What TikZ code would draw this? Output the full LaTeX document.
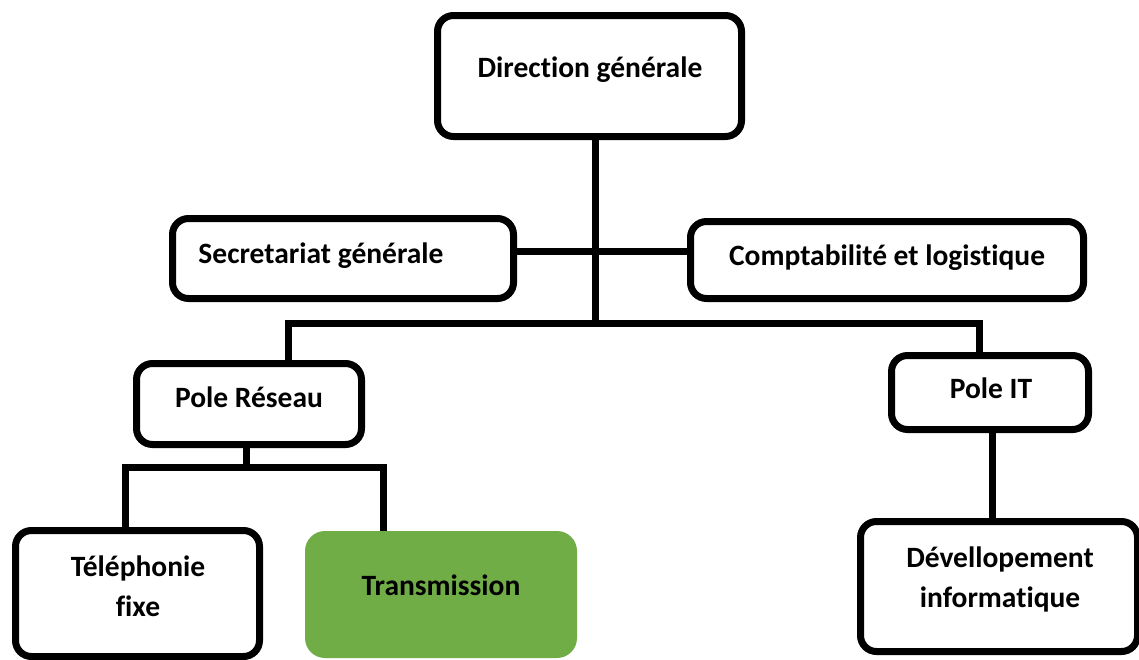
\documentclass[tikz,border=0pt]{standalone}
\usepackage{fontspec}
\setmainfont{Carlito}[Ligatures={NoCommon}]
\definecolor{tgreen}{HTML}{70AD47}
\begin{document}
\begin{tikzpicture}[x=1pt,y=-1pt,
  box/.style={draw=black, line width=7pt, rounded corners=16pt, fill=white, inner sep=0pt},
  lbl/.style={font=\fontsize{29.5}{40}\selectfont\bfseries, align=center, inner sep=0pt, anchor=base},
  conn/.style={line width=7pt, draw=black}]
\clip (0,0) rectangle (1139,659);
\fill[white] (0,0) rectangle (1139,659);
% boxes
\node[box, minimum width=304pt, minimum height=121pt] (dg) at (589.5,76) {};
\node[box, minimum width=341pt, minimum height=80pt] (sec) at (343,258.5) {};
\node[box, minimum width=393pt, minimum height=77pt] (comp) at (887,260) {};
\node[box, minimum width=225pt, minimum height=81pt] (pr) at (249,404) {};
\node[box, minimum width=197pt, minimum height=74pt] (it) at (990,392.5) {};
\node[box, minimum width=244pt, minimum height=126pt] (tel) at (137.5,593.5) {};
\node[fill=tgreen, rounded corners=20pt, inner sep=0pt, minimum width=272pt, minimum height=127pt] (trans) at (441,594.5) {};
\node[box, minimum width=277pt, minimum height=130pt] (dev) at (999,586.5) {};
% labels
\node[lbl] (dgt) at (590,77) {Direction générale};
\node[lbl] (sect) at (321,263) {Secretariat générale};
\node[lbl] (compt) at (887,265) {Comptabilité et logistique};
\node[lbl] (prt) at (249,407) {Pole Réseau};
\node[lbl] (itt) at (991,398) {Pole IT};
\node[lbl] (telt) at (138,616) {Téléphonie\\fixe};
\node[lbl] (transt) at (441,595) {Transmission};
\node[lbl] (devt) at (1000,607) {Dévellopement\\informatique};
% junctions
\coordinate (jtop) at (595,323);
\coordinate (jl) at (288,323);
\coordinate (jr) at (979,323);
\coordinate (sc) at (600,251);
\coordinate (pb) at (246,467);
\coordinate (pbl) at (125,467);
\coordinate (pbr) at (383,467);
\coordinate (itx) at (992,480);
% connectors
\draw[conn] (dg.south -| jtop) -- (jtop);
\draw[conn] (sec.east |- sc) -- (comp.west |- sc);
\draw[conn] (pr.north -| jl) -- (jl) -- (jr) -- (it.north -| jr);
\draw[conn] (pr.south -| pb) -- (pb);
\draw[conn] (tel.north -| pbl) -- (pbl) -- (pbr) -- (trans.north -| pbr);
\draw[conn] (it.south -| itx) -- (dev.north -| itx);
\end{tikzpicture}
\end{document}
